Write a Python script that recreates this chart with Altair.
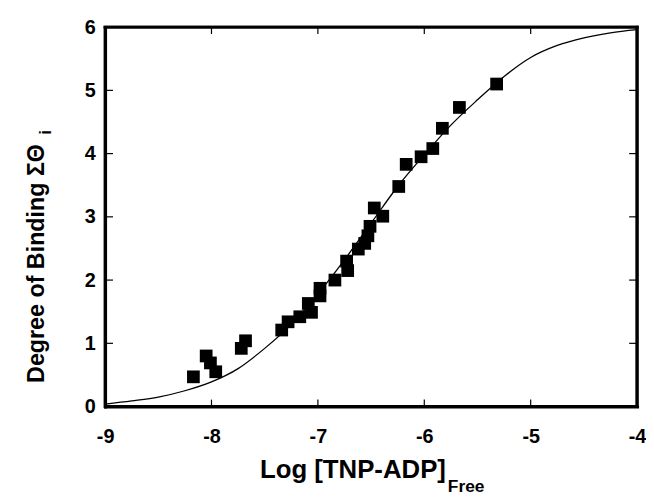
import altair as alt
import pandas as pd

# data points (log free TNP-ADP, degree of binding)
pt_x = [-8.17, -8.05, -8.01, -7.96, -7.72, -7.68, -7.34, -7.28, -7.17, -7.09, -7.06,
        -6.98, -6.98, -6.84, -6.73, -6.72, -6.62, -6.56, -6.53, -6.51, -6.47, -6.39,
        -6.24, -6.17, -6.03, -5.92, -5.83, -5.67, -5.32]
pt_y = [0.47, 0.80, 0.69, 0.55, 0.92, 1.04, 1.21, 1.34, 1.42, 1.63, 1.49,
        1.75, 1.87, 2.00, 2.30, 2.15, 2.49, 2.58, 2.70, 2.85, 3.14, 3.01,
        3.48, 3.83, 3.95, 4.08, 4.40, 4.73, 5.10]

# fitted curve
cv_x = [-9.0, -8.75, -8.5, -8.25, -8.0, -7.75, -7.5, -7.25, -7.0, -6.75, -6.5,
        -6.25, -6.0, -5.75, -5.5, -5.25, -5.0, -4.75, -4.5, -4.25, -4.0]
cv_y = [0.04, 0.09, 0.15, 0.25, 0.39, 0.60, 0.92, 1.30, 1.78, 2.32, 2.90,
        3.48, 3.98, 4.45, 4.85, 5.22, 5.52, 5.71, 5.83, 5.91, 5.96]

x_ticks = [-9, -8, -7, -6, -5, -4]
y_ticks = [0, 1, 2, 3, 4, 5, 6]
inner_x = [-8, -7, -6, -5]
inner_y = [1, 2, 3, 4, 5]

W, H = 537, 383
FONT = "Liberation Sans"

pts = pd.DataFrame({"x": pt_x, "y": pt_y})
cv = pd.DataFrame({"x": cv_x, "y": cv_y})
tx = pd.DataFrame({"v": inner_x})
ty = pd.DataFrame({"v": inner_y})
one = pd.DataFrame({"k": [0]})

xs = alt.Scale(domain=[-9, -4], nice=False, zero=False)
ys = alt.Scale(domain=[0, 6], nice=False, zero=False)

xaxis = alt.Axis(values=x_ticks, labelExpr="'' + datum.value", ticks=False,
                 domain=True, domainColor="#000000", domainWidth=3, domainCap="square",
                 grid=False, labelFont=FONT, labelFontWeight="bold", labelFontSize=20,
                 labelColor="#000000", labelPadding=20, labelFlush=False, title=None)
yaxis = alt.Axis(values=y_ticks, labelExpr="'' + datum.value", ticks=False,
                 domain=True, domainColor="#000000", domainWidth=3, domainCap="square",
                 grid=False, labelFont=FONT, labelFontWeight="bold", labelFontSize=20,
                 labelColor="#000000", labelPadding=10, labelFlush=False, title=None)

curve = alt.Chart(cv).mark_line(color="#000000", strokeWidth=1.3, interpolate="monotone").encode(
    x=alt.X("x:Q", scale=xs, axis=xaxis),
    y=alt.Y("y:Q", scale=ys, axis=yaxis),
)

points = alt.Chart(pts).mark_square(size=165, color="#000000", opacity=1).encode(
    x=alt.X("x:Q", scale=xs),
    y=alt.Y("y:Q", scale=ys),
)

# inward tick marks
tb = alt.Chart(tx).mark_rule(color="#000000", strokeWidth=1.2).encode(
    x=alt.X("v:Q", scale=xs), y=alt.value(H), y2=alt.value(H - 7))
tt = alt.Chart(tx).mark_rule(color="#000000", strokeWidth=1.2).encode(
    x=alt.X("v:Q", scale=xs), y=alt.value(0), y2=alt.value(7))
tl = alt.Chart(ty).mark_rule(color="#000000", strokeWidth=1.2).encode(
    y=alt.Y("v:Q", scale=ys), x=alt.value(0), x2=alt.value(8))
tr = alt.Chart(ty).mark_rule(color="#000000", strokeWidth=1.2).encode(
    y=alt.Y("v:Q", scale=ys), x=alt.value(W), x2=alt.value(W - 8))

# top and right edges of the frame
ftop = alt.Chart(one).mark_rule(color="#000000", strokeWidth=3).encode(
    x=alt.value(-1.5), x2=alt.value(W + 1.5), y=alt.value(0))
fright = alt.Chart(one).mark_rule(color="#000000", strokeWidth=3).encode(
    x=alt.value(W), y=alt.value(-1.5), y2=alt.value(H + 1.5))

# invisible anchor fixing the top-left extent of the chart
anchor = alt.Chart(one).mark_square(size=0.01, opacity=0).encode(
    x=alt.value(-97.5), y=alt.value(-16))

xt = alt.Chart(one).mark_text(text="Log [TNP-ADP]", font=FONT, fontWeight="bold", fontSize=26,
                              align="right", baseline="alphabetic", color="#000000").encode(
    x=alt.value(344), y=alt.value(455))
xsub = alt.Chart(one).mark_text(text="Free", font=FONT, fontWeight="bold", fontSize=17.5,
                                align="left", baseline="alphabetic", color="#000000").encode(
    x=alt.value(346), y=alt.value(469))
yt = alt.Chart(one).mark_text(text="Degree of Binding  ΣΘ", font=FONT, fontWeight="bold", fontSize=23.5,
                              align="right", baseline="alphabetic", angle=270, color="#000000").encode(
    x=alt.value(-62), y=alt.value(118))
ysub = alt.Chart(one).mark_text(text="i", font=FONT, fontWeight="bold", fontSize=16,
                                align="right", baseline="alphabetic", angle=270, color="#000000").encode(
    x=alt.value(-55), y=alt.value(104))

chart = alt.layer(curve, points, tb, tt, tl, tr, ftop, fright, anchor, xt, xsub, yt, ysub).properties(
    width=W, height=H, padding=0, background="white",
).configure_view(stroke="#000000", strokeWidth=3)

chart.save("out.html", embed_options={"renderer": "svg", "actions": False})
